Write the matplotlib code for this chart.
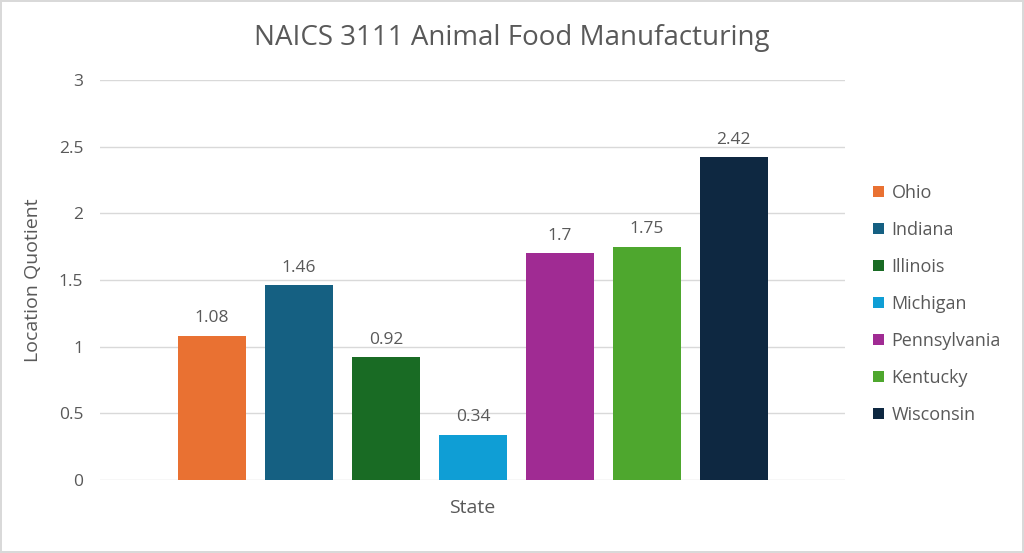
import matplotlib
matplotlib.use('Agg')
from matplotlib import pyplot as plt

states = ['Ohio', 'Indiana', 'Illinois', 'Michigan', 'Pennsylvania', 'Kentucky', 'Wisconsin']
quotients = [1.08, 1.46, 0.92, 0.34, 1.70, 1.75, 2.42]
colors = ['#E97132', '#156082', '#196B24', '#0F9ED5', '#A02B93', '#4EA72E', '#0E2841']
yticks = [0, 0.5, 1, 1.5, 2, 2.5, 3]

plt.rcParams['font.family'] = ['Open Sans', 'DejaVu Sans']
text_color = '#595959'

fig = plt.figure(figsize=(10.24, 5.53), dpi=100)
fig.patch.set_edgecolor('#D9D9D9')
fig.patch.set_linewidth(1.5)
ax = fig.add_axes([100 / 1024, 1 - 480 / 553, 745 / 1024, 400 / 553])

for i, (name, val, c) in enumerate(zip(states, quotients, colors)):
    b = ax.bar(i, val, width=0.78, color=c, label=name, zorder=3)
    ax.bar_label(b, labels=[f'{val:g}'], padding=7, fontsize=12.5, color=text_color)

ax.set_xlim(-1.29, 7.28)
ax.set_ylim(0, 3)
ax.set_yticks(yticks)
ax.set_yticklabels([f'{t:g}' for t in yticks])
ax.set_xticks([])
ax.grid(axis='y', color='#D9D9D9', linewidth=1, zorder=0)
for s in ax.spines.values():
    s.set_visible(False)
ax.tick_params(axis='y', length=0, pad=12, labelsize=12.5, labelcolor=text_color)

ax.set_xlabel('State', fontsize=14, color=text_color, labelpad=14)
ax.set_ylabel('Location Quotient', fontsize=14, color=text_color, labelpad=12)
fig.suptitle('NAICS 3111 Animal Food Manufacturing', fontsize=20, color=text_color, y=1 - 38 / 553, va='center')

fig.legend(loc='center left', bbox_to_anchor=(0.837, 1 - 304 / 553), frameon=False,
           fontsize=13, labelcolor=text_color, handlelength=0.6, handleheight=0.6,
           handletextpad=0.4, labelspacing=1.05)

fig.savefig('out.png', dpi=100)
